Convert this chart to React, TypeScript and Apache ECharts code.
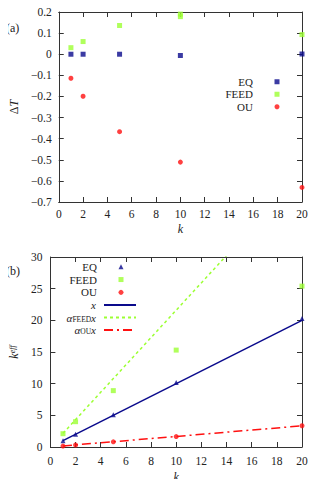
import React, { useEffect, useRef } from 'react';
import * as echarts from 'echarts';

// Panel (a): temperature difference vs k
const kEq = [1, 2, 5, 10, 20];
const dTEq = [0, 0, 0, -0.006, 0.001];
const kFeed = [1, 2, 5, 10, 10, 20];
const dTFeed = [0.031, 0.06, 0.136, 0.19, 0.178, 0.093];
const kOu = [1, 2, 5, 10, 20];
const dTOu = [-0.114, -0.199, -0.367, -0.511, -0.631];

// Panel (b): effective k vs k
const kEffEq = [1.0, 2.0, 5.1, 10.2, 20.3];
const kEffFeed = [2.1, 4.0, 8.9, 15.3, 25.4];
const kEffOu = [0.15, 0.32, 0.82, 1.65, 3.35];

// Fit lines y = alpha * x
const fitK = [1, 20];
const alphaEq = 1;
const alphaFeed = 2.16;
const alphaOu = 0.167;

const SERIF = 'Liberation Serif';
const C_EQ = '#0a0a8c';
const C_FEED = '#9cff33';
const C_OU = '#ff1010';
const AX = '#333';
const TXT = '#222';
const TICK_FS = 11.5;
const LEG_FS = 11;

const pairs = (xs: number[], ys: number[]) => xs.map((x, i) => [x, ys[i]]);
const fit = (a: number) => fitK.map((x) => [x, a * x]);

const fmtDec = (v: number) => {
  if (Math.abs(v) < 1e-9) return '0';
  const s = v.toFixed(1);
  return s.replace('-', '\u2212');
};

function xAxisPair(gridIndex: number) {
  const base = {
    gridIndex,
    type: 'value' as const,
    min: 0,
    max: 20,
    interval: 2,
    splitLine: { show: false },
    axisLine: { show: true, onZero: false, lineStyle: { color: AX, width: 1 } },
    axisTick: { show: true, inside: true, length: 5, lineStyle: { color: AX } },
  };
  return [
    {
      ...base,
      position: 'bottom' as const,
      name: 'k',
      nameLocation: 'middle' as const,
      nameGap: gridIndex === 0 ? 21 : 24,
      nameTextStyle: { fontFamily: SERIF, fontStyle: 'italic', fontSize: 12, color: TXT },
      axisLabel: { fontFamily: SERIF, fontSize: TICK_FS, color: TXT, margin: gridIndex === 0 ? 6 : 8 },
    },
    {
      ...base,
      position: 'top' as const,
      axisLabel: { show: false },
    },
  ];
}

const hiddenMarker = { color: 'rgba(0,0,0,0)', borderColor: 'rgba(0,0,0,0)', borderWidth: 0 };

const lineLegend = (name: string, top: number) => ({
  orient: 'vertical',
  align: 'right',
  right: 187,
  top,
  padding: 0,
  itemWidth: 32,
  itemHeight: 5,
  selectedMode: false,
  itemStyle: hiddenMarker,
  textStyle: {
    fontFamily: SERIF,
    fontSize: LEG_FS,
    color: TXT,
    padding: [0, 3, 0, 0],
    rich: {
      i: { fontFamily: SERIF, fontSize: LEG_FS, fontStyle: 'italic', color: TXT },
      s: { fontFamily: SERIF, fontSize: 7.5, color: TXT, verticalAlign: 'bottom' },
    },
  },
  formatter: (n: string) => {
    if (n === 'x') return '{i|x}';
    if (n === 'aFEED') return '{i|\u03b1}{s|FEED}{i|x}';
    if (n === 'aOU') return '{i|\u03b1}{s|OU}{i|x}';
    return n;
  },
  data: [name],
});

export default function App() {
  const ref = useRef<HTMLDivElement>(null);

  useEffect(() => {
    if (!ref.current) return;
    const chart = echarts.init(ref.current, undefined, { renderer: 'svg' });

    const yBaseA = {
      gridIndex: 0,
      type: 'value' as const,
      min: -0.7,
      max: 0.2,
      interval: 0.1,
      splitLine: { show: false },
      axisLine: { show: true, onZero: false, lineStyle: { color: AX, width: 1 } },
      axisTick: { show: true, inside: true, length: 5, lineStyle: { color: AX } },
    };
    const yBaseB = {
      gridIndex: 1,
      type: 'value' as const,
      min: 0,
      max: 30,
      interval: 5,
      splitLine: { show: false },
      axisLine: { show: true, onZero: false, lineStyle: { color: AX, width: 1 } },
      axisTick: { show: true, inside: true, length: 5, lineStyle: { color: AX } },
    };

    const legendText = { fontFamily: SERIF, fontSize: LEG_FS, color: TXT, lineHeight: 12.5 };

    const option: any = {
      animation: false,
      backgroundColor: '#fff',
      textStyle: { fontFamily: SERIF },
      grid: [
        { left: 48, right: 22, top: 12, height: 190 },
        { left: 41, right: 22, top: 257, height: 190 },
      ],
      xAxis: [...xAxisPair(0), ...xAxisPair(1)],
      yAxis: [
        {
          ...yBaseA,
          position: 'left',
          name: '{d|\u0394}{i|T}',
          nameLocation: 'middle',
          nameGap: 36,
          nameRotate: 90,
          nameTextStyle: {
            rich: {
              d: { fontFamily: SERIF, fontSize: 12, color: TXT },
              i: { fontFamily: SERIF, fontSize: 12, fontStyle: 'italic', color: TXT },
            },
          },
          axisLabel: { fontFamily: SERIF, fontSize: TICK_FS, color: TXT, margin: 7, formatter: fmtDec },
        },
        { ...yBaseA, position: 'right', axisLabel: { show: false } },
        {
          ...yBaseB,
          position: 'left',
          name: '{i|k}{s|eff}',
          nameLocation: 'middle',
          nameGap: 28,
          nameRotate: 90,
          nameTextStyle: {
            rich: {
              i: { fontFamily: SERIF, fontSize: 12, fontStyle: 'italic', color: TXT },
              s: { fontFamily: SERIF, fontSize: 8, fontStyle: 'italic', color: TXT, verticalAlign: 'top' },
            },
          },
          axisLabel: { fontFamily: SERIF, fontSize: TICK_FS, color: TXT, margin: 8 },
        },
        { ...yBaseB, position: 'right', axisLabel: { show: false } },
      ],
      legend: [
        {
          orient: 'vertical',
          align: 'right',
          right: 44.5,
          top: 75.5,
          padding: 0,
          itemWidth: 5,
          itemHeight: 5,
          itemGap: 0,
          selectedMode: false,
          textStyle: { ...legendText, padding: [0, 16.5, 0, 0] },
          data: [
            { name: 'EQ', icon: 'rect' },
            { name: 'FEED', icon: 'rect' },
            { name: 'OU', icon: 'circle' },
          ],
        },
        {
          orient: 'vertical',
          align: 'right',
          right: 200.5,
          top: 260.5,
          padding: 0,
          itemWidth: 5,
          itemHeight: 5,
          itemGap: 0.3,
          selectedMode: false,
          textStyle: { ...legendText, padding: [0, 16.5, 0, 0] },
          formatter: (name: string) => name.trim(),
          data: [
            { name: 'EQ ', icon: 'triangle' },
            { name: 'FEED ', icon: 'rect' },
            { name: 'OU ', icon: 'circle' },
          ],
        },
        lineLegend('x', 299.5),
        lineLegend('aFEED', 312),
        lineLegend('aOU', 324.5),
      ],
      series: [
        {
          name: 'EQ', type: 'scatter', xAxisIndex: 0, yAxisIndex: 0,
          symbol: 'rect', symbolSize: 5, itemStyle: { color: C_EQ },
          data: pairs(kEq, dTEq),
        },
        {
          name: 'FEED', type: 'scatter', xAxisIndex: 0, yAxisIndex: 0,
          symbol: 'rect', symbolSize: 5, itemStyle: { color: C_FEED },
          data: pairs(kFeed, dTFeed),
        },
        {
          name: 'OU', type: 'scatter', xAxisIndex: 0, yAxisIndex: 0,
          symbol: 'circle', symbolSize: 5, itemStyle: { color: C_OU },
          data: pairs(kOu, dTOu),
        },
        {
          name: 'x', type: 'line', xAxisIndex: 2, yAxisIndex: 2,
          symbol: 'none', lineStyle: { color: C_EQ, width: 1.5 }, itemStyle: { color: C_EQ },
          data: fit(alphaEq), z: 1,
        },
        {
          name: 'aFEED', type: 'line', xAxisIndex: 2, yAxisIndex: 2, clip: true,
          symbol: 'none', lineStyle: { color: C_FEED, width: 1.5, type: [3, 3] }, itemStyle: { color: C_FEED },
          data: fit(alphaFeed), z: 1,
        },
        {
          name: 'aOU', type: 'line', xAxisIndex: 2, yAxisIndex: 2,
          symbol: 'none', lineStyle: { color: C_OU, width: 1.5, type: [9, 4, 2, 4] }, itemStyle: { color: C_OU },
          data: fit(alphaOu), z: 1,
        },
        {
          name: 'EQ ', type: 'scatter', xAxisIndex: 2, yAxisIndex: 2,
          symbol: 'triangle', symbolSize: 5, itemStyle: { color: C_EQ },
          data: pairs(kEq, kEffEq), z: 3,
        },
        {
          name: 'FEED ', type: 'scatter', xAxisIndex: 2, yAxisIndex: 2,
          symbol: 'rect', symbolSize: 5, itemStyle: { color: C_FEED },
          data: pairs(kEq, kEffFeed), z: 3,
        },
        {
          name: 'OU ', type: 'scatter', xAxisIndex: 2, yAxisIndex: 2,
          symbol: 'circle', symbolSize: 5, itemStyle: { color: C_OU },
          data: pairs(kEq, kEffOu), z: 3,
        },
      ],
      graphic: [
        { type: 'text', x: 6, y: 22, style: { text: '(a)', fontFamily: SERIF, fontSize: 12, fill: TXT } },
        { type: 'text', x: 6, y: 265, style: { text: '(b)', fontFamily: SERIF, fontSize: 12, fill: TXT } },
      ],
    };

    chart.setOption(option);
    return () => chart.dispose();
  }, []);

  return <div ref={ref} style={{ width: 324, height: 487, margin: -8 }} />;
}
